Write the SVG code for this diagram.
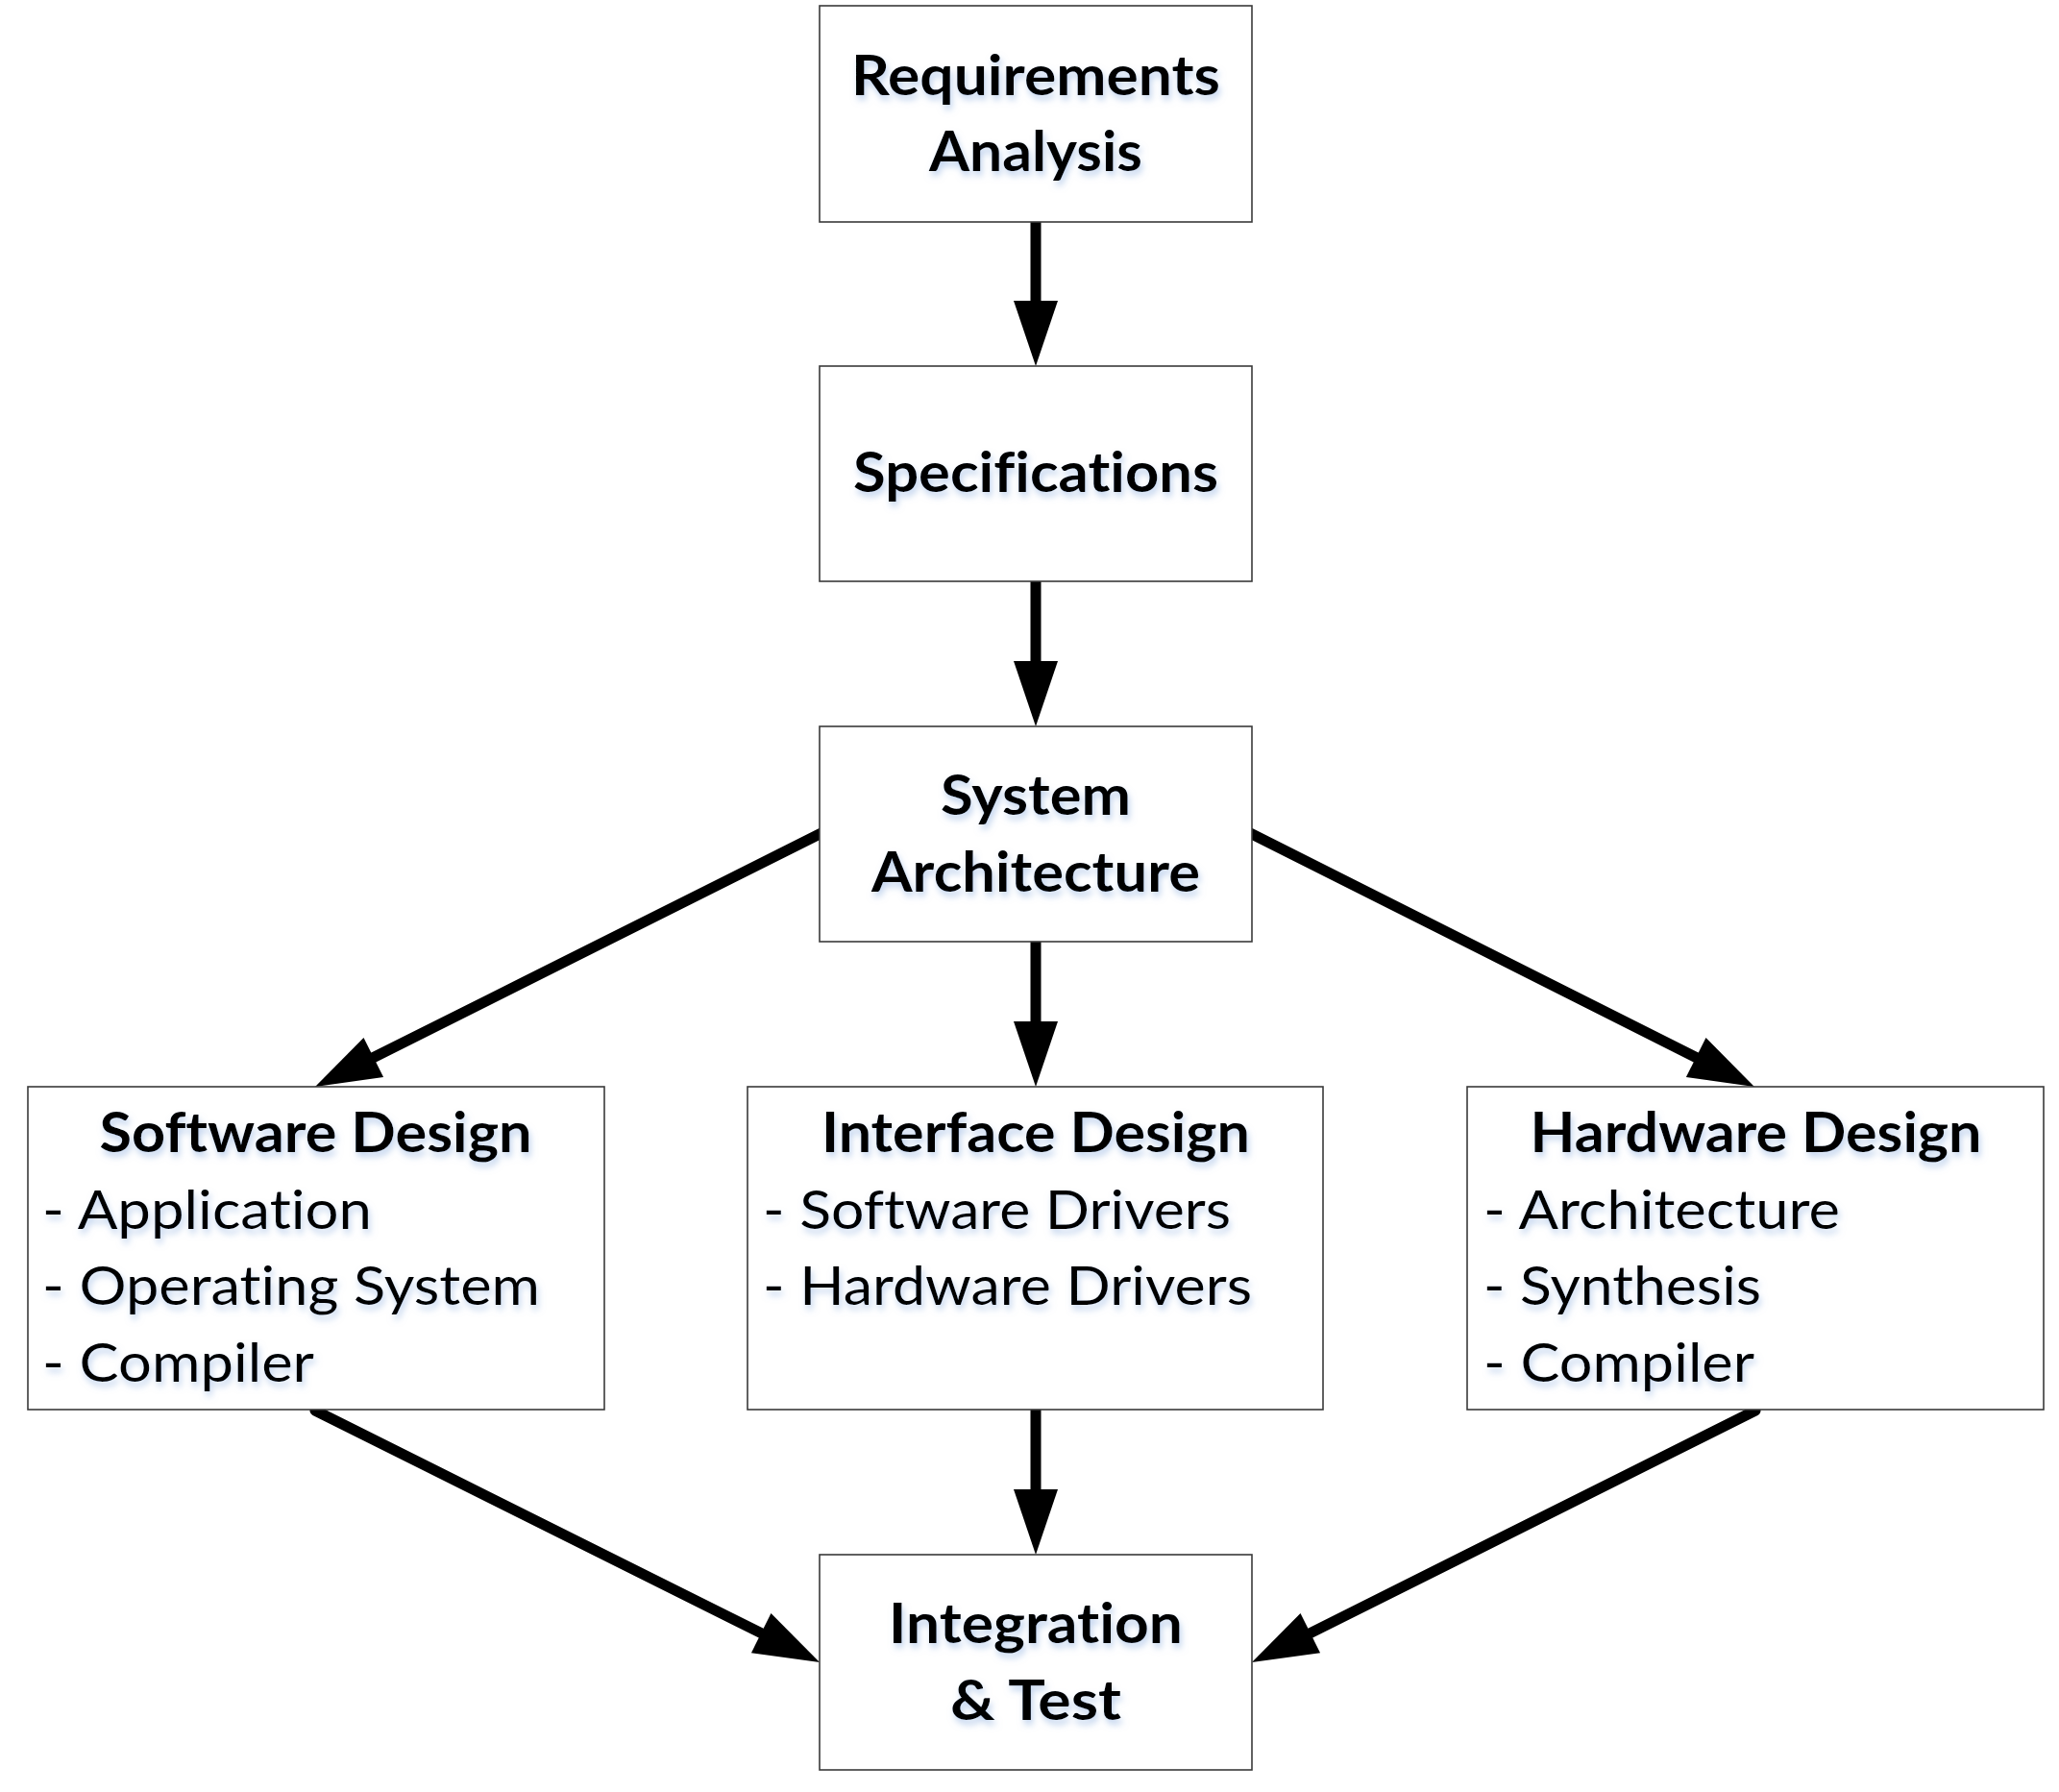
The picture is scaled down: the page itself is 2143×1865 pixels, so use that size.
<svg xmlns="http://www.w3.org/2000/svg" width="2143" height="1865" viewBox="0 0 2143 1865">
<style>
  .box{fill:#ffffff;stroke:#3a3a3a;stroke-width:1.6}
  .t{font-family:Lato,"Open Sans","Liberation Sans",sans-serif;font-size:57px;fill:#000;font-variant-ligatures:none;font-feature-settings:"liga" 0,"clig" 0}
  .b{font-weight:bold;text-anchor:middle}
  .r{font-weight:normal;text-anchor:start}
  .conn{fill:none;stroke:#000;stroke-width:11;stroke-linecap:round}
</style>
<defs>
  <marker id="ah" markerUnits="userSpaceOnUse" viewBox="0 -24 70 48" markerWidth="70" markerHeight="48" refX="0" refY="0" orient="auto" overflow="visible">
    <path d="M0,-23 L68,0 L0,23 Z" fill="#000"/>
  </marker>
  <filter id="glow" x="-10%" y="-40%" width="125%" height="190%">
    <feGaussianBlur in="SourceAlpha" stdDeviation="3.5"/>
    <feOffset dx="2" dy="5" result="bl"/>
    <feFlood flood-color="#8fb0e0" flood-opacity="0.55"/>
    <feComposite in2="bl" operator="in"/>
    <feMerge><feMergeNode/><feMergeNode in="SourceGraphic"/></feMerge>
  </filter>
</defs>
<rect width="2143" height="1865" fill="#ffffff"/>

<g id="connectors">
  <path class="conn" d="M1078,232 L1078,313" marker-end="url(#ah)"/>
  <path class="conn" d="M1078,606 L1078,688" marker-end="url(#ah)"/>
  <path class="conn" d="M1078,981 L1078,1063" marker-end="url(#ah)"/>
  <path class="conn" d="M855,867 L388.8,1100.5" marker-end="url(#ah)"/>
  <path class="conn" d="M1301,867 L1765.2,1100.5" marker-end="url(#ah)"/>
  <path class="conn" d="M1078,1468 L1078,1550" marker-end="url(#ah)"/>
  <path class="conn" d="M328,1468 L792.2,1699.6" marker-end="url(#ah)"/>
  <path class="conn" d="M1827,1468 L1363.8,1699.6" marker-end="url(#ah)"/>
</g>

<g id="requirements">
  <rect class="box" x="853" y="6" width="450" height="225"/>
  <g filter="url(#glow)">
    <text class="t b" x="1078" y="99" textLength="384" lengthAdjust="spacingAndGlyphs">Requirements</text>
    <text class="t b" x="1078" y="178" textLength="222" lengthAdjust="spacingAndGlyphs">Analysis</text>
  </g>
</g>

<g id="specifications">
  <rect class="box" x="853" y="381" width="450" height="224"/>
  <g filter="url(#glow)">
    <text class="t b" x="1078" y="512" textLength="380" lengthAdjust="spacingAndGlyphs">Specifications</text>
  </g>
</g>

<g id="system-architecture">
  <rect class="box" x="853" y="756" width="450" height="224"/>
  <g filter="url(#glow)">
    <text class="t b" x="1078" y="848" textLength="198" lengthAdjust="spacingAndGlyphs">System</text>
    <text class="t b" x="1078" y="928" textLength="342" lengthAdjust="spacingAndGlyphs">Architecture</text>
  </g>
</g>

<g id="software-design">
  <rect class="box" x="29" y="1131" width="600" height="336"/>
  <g filter="url(#glow)">
    <text class="t b" x="328.5" y="1199" textLength="450" lengthAdjust="spacingAndGlyphs">Software Design</text>
    <text class="t r" x="44" y="1279" textLength="343" lengthAdjust="spacingAndGlyphs">- Application</text>
    <text class="t r" x="44" y="1358" textLength="518" lengthAdjust="spacingAndGlyphs">- Operating System</text>
    <text class="t r" x="44" y="1438" textLength="283" lengthAdjust="spacingAndGlyphs">- Compiler</text>
  </g>
</g>

<g id="interface-design">
  <rect class="box" x="778" y="1131" width="599" height="336"/>
  <g filter="url(#glow)">
    <text class="t b" x="1078" y="1199" textLength="446" lengthAdjust="spacingAndGlyphs">Interface Design</text>
    <text class="t r" x="794" y="1279" textLength="487" lengthAdjust="spacingAndGlyphs">- Software Drivers</text>
    <text class="t r" x="794" y="1358" textLength="509" lengthAdjust="spacingAndGlyphs">- Hardware Drivers</text>
  </g>
</g>

<g id="hardware-design">
  <rect class="box" x="1527" y="1131" width="600" height="336"/>
  <g filter="url(#glow)">
    <text class="t b" x="1827.5" y="1199" textLength="470" lengthAdjust="spacingAndGlyphs">Hardware Design</text>
    <text class="t r" x="1544" y="1279" textLength="371" lengthAdjust="spacingAndGlyphs">- Architecture</text>
    <text class="t r" x="1544" y="1358" textLength="289" lengthAdjust="spacingAndGlyphs">- Synthesis</text>
    <text class="t r" x="1544" y="1438" textLength="282" lengthAdjust="spacingAndGlyphs">- Compiler</text>
  </g>
</g>

<g id="integration-test">
  <rect class="box" x="853" y="1618" width="450" height="224"/>
  <g filter="url(#glow)">
    <text class="t b" x="1078" y="1710" textLength="306" lengthAdjust="spacingAndGlyphs">Integration</text>
    <text class="t b" x="1078" y="1790" textLength="178" lengthAdjust="spacingAndGlyphs">&amp; Test</text>
  </g>
</g>
</svg>
